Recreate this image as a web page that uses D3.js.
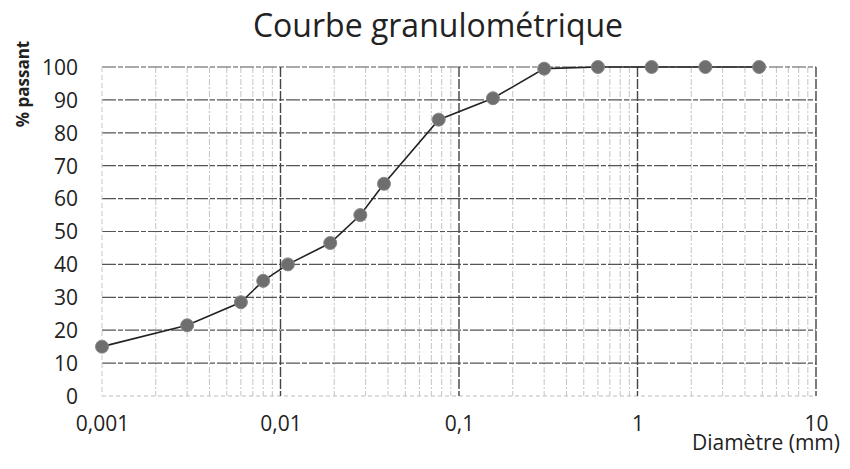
<!DOCTYPE html>
<html>
<head>
<meta charset="utf-8">
<script src="https://cdn.jsdelivr.net/npm/d3@7"></script>
<style>
  body { margin: 0; background: #fff; }
  text { font-family: "Open Sans", "Liberation Sans", sans-serif; fill: #222; }
</style>
</head>
<body>
<div id="chart"></div>
<script>
// --- DATA ---
const diameters = [0.001, 0.003, 0.006, 0.008, 0.011, 0.019, 0.028, 0.038, 0.077, 0.155, 0.3, 0.6, 1.2, 2.4, 4.8];
const passing   = [15, 21.5, 28.5, 35, 40, 46.5, 55, 64.5, 84, 90.5, 99.5, 100, 100, 100, 100];
const xTicks    = [0.001, 0.01, 0.1, 1, 10];
const xTickLbl  = ['0,001', '0,01', '0,1', '1', '10'];
const yTicks    = [0, 10, 20, 30, 40, 50, 60, 70, 80, 90, 100];

const width = 850, height = 469;
const margin = { top: 67, right: 34, bottom: 73, left: 102 };
const w = width - margin.left - margin.right;
const h = height - margin.top - margin.bottom;

const svg = d3.select('#chart').append('svg')
  .attr('width', width)
  .attr('height', height);

const g = svg.append('g')
  .attr('transform', `translate(${margin.left},${margin.top})`);

const x = d3.scaleLog().domain([0.001, 10]).range([0, w]);
const y = d3.scaleLinear().domain([0, 100]).range([h, 0]);

// minor log grid (2..9 in every decade)
const minor = [];
for (let e = -3; e < 1; e++) {
  for (let k = 2; k <= 9; k++) minor.push(k * Math.pow(10, e));
}
g.append('g').selectAll('line')
  .data(minor)
  .enter().append('line')
    .attr('x1', d => x(d)).attr('x2', d => x(d))
    .attr('y1', 0).attr('y2', h)
    .attr('stroke', '#c4c4c4')
    .attr('stroke-width', 1)
    .attr('stroke-dasharray', '6,2,2,2');

// horizontal grid
g.append('g').selectAll('line')
  .data(yTicks)
  .enter().append('line')
    .attr('x1', 0).attr('x2', w)
    .attr('y1', d => y(d)).attr('y2', d => y(d))
    .attr('stroke', d => d === 0 ? '#bbb' : '#555')
    .attr('stroke-width', 1.2)
    .attr('stroke-dasharray', d => d === 0 ? '4,3' : '14,2,5,2');

// decade lines
g.append('g').selectAll('line')
  .data(xTicks)
  .enter().append('line')
    .attr('x1', d => x(d)).attr('x2', d => x(d))
    .attr('y1', 0).attr('y2', h)
    .attr('stroke', (d, i) => i === 0 ? '#c8c8c8' : '#444')
    .attr('stroke-width', (d, i) => i === 0 ? 1 : 1.4)
    .attr('stroke-dasharray', (d, i) => i === 0 ? '5,3' : '10,2');

// axes labels
const yAxis = d3.axisLeft(y).tickValues(yTicks).tickSize(0).tickPadding(24);
g.append('g').call(yAxis)
  .call(s => s.select('.domain').remove())
  .selectAll('text')
    .style('font-size', '21px')
    .attr('dy', '0.35em');

const xAxis = d3.axisBottom(x).tickValues(xTicks).tickSize(0).tickPadding(20)
  .tickFormat((d, i) => xTickLbl[i]);
g.append('g').attr('transform', `translate(0,${h})`).call(xAxis)
  .call(s => s.select('.domain').remove())
  .selectAll('text')
    .style('font-size', '21px');

// curve
const line = d3.line()
  .x((d, i) => x(diameters[i]))
  .y(d => y(d));

g.append('path')
  .datum(passing)
  .attr('fill', 'none')
  .attr('stroke', '#222')
  .attr('stroke-width', 1.6)
  .attr('d', line);

g.selectAll('circle.pt')
  .data(passing)
  .enter().append('circle')
    .attr('class', 'pt')
    .attr('cx', (d, i) => x(diameters[i]))
    .attr('cy', d => y(d))
    .attr('r', 6.5)
    .attr('fill', '#6e6e6e')
    .attr('stroke', '#888')
    .attr('stroke-width', 1);

// titles
svg.append('text')
  .attr('x', 438).attr('y', 37)
  .attr('text-anchor', 'middle')
  .style('font-size', '32px')
  .text('Courbe granulométrique');

svg.append('text')
  .attr('transform', 'translate(29,84) rotate(-90)')
  .attr('text-anchor', 'middle')
  .style('font-size', '17px')
  .style('font-weight', 'bold')
  .text('% passant');

svg.append('text')
  .attr('x', 840).attr('y', 450)
  .attr('text-anchor', 'end')
  .style('font-size', '21px')
  .text('Diamètre (mm)');
</script>
</body>
</html>
